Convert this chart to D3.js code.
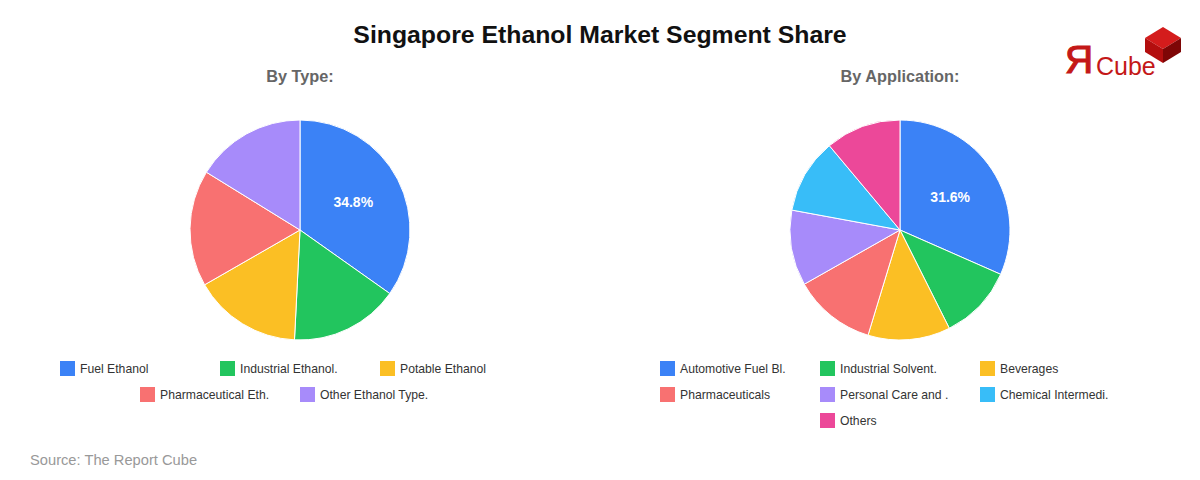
<!DOCTYPE html>
<html><head><meta charset="utf-8">
<script src="https://cdn.jsdelivr.net/npm/d3@7/dist/d3.min.js"></script>
<style>body{margin:0;background:#fff;font-family:Arial,"Liberation Sans",sans-serif}</style>
</head><body><svg id="c" width="1200" height="480"></svg>
<script>
const typeCategories = ["Fuel Ethanol","Industrial Ethanol.","Potable Ethanol","Pharmaceutical Eth.","Other Ethanol Type."];
const typeValues = [34.8, 16.0, 15.9, 17.1, 16.2];
const appCategories = ["Automotive Fuel Bl.","Industrial Solvent.","Beverages","Pharmaceuticals","Personal Care and .","Chemical Intermedi.","Others"];
const appValues = [31.6, 11.0, 12.1, 12.1, 11.1, 11.0, 11.1];
const palette = ["#3b82f6","#22c55e","#fbbf24","#f87171","#a78bfa","#38bdf8","#ec4899"];

const svg = d3.select("#c");
svg.append("rect").attr("width",1200).attr("height",480).attr("fill","#fff");
svg.append("text").attr("x",600).attr("y",43).attr("text-anchor","middle")
  .attr("font-size",24.8).attr("font-weight","bold").attr("fill","#111").text("Singapore Ethanol Market Segment Share");

function drawPie(cx, cy, r, title, cats, vals, legendCols, legendRows){
  svg.append("text").attr("x",cx).attr("y",82).attr("text-anchor","middle")
    .attr("font-size",16.3).attr("font-weight","bold").attr("fill","#666").text(title);
  const data = cats.map((c,i)=>({c, v: vals[i], i}));
  const pie = d3.pie().value(d=>d.v).sort(null);
  const arc = d3.arc().innerRadius(0).outerRadius(r);
  const g = svg.append("g").attr("transform",`translate(${cx},${cy})`);
  const arcs = pie(data);
  g.selectAll("path").data(arcs).join("path").attr("d",arc)
    .attr("fill",d=>palette[d.data.i]).attr("stroke","#fff").attr("stroke-width",1);
  const lab = d3.arc().innerRadius(r*0.545).outerRadius(r*0.545);
  const total = d3.sum(vals);
  g.selectAll("text").data(arcs.filter(d=>d.data.v/total>0.25)).join("text")
    .attr("transform",d=>`translate(${lab.centroid(d)})`).attr("text-anchor","middle").attr("dy","0.35em")
    .attr("font-size",14).attr("font-weight","bold").attr("fill","#fff")
    .text(d=>d.data.v.toFixed(1)+"%");
  const lg = svg.append("g");
  legendRows.forEach((row, ri)=>{
    row.forEach((idx, k)=>{
      const x = legendCols[ri][k], y = 369 + ri*26;
      lg.append("rect").attr("x",x).attr("y",y-8).attr("width",15).attr("height",15).attr("fill",palette[idx]);
      lg.append("text").attr("x",x+20).attr("y",y).attr("dy","0.35em").attr("font-size",12.2).attr("fill","#333").text(cats[idx]);
    });
  });
}
drawPie(300, 230, 110, "By Type:", typeCategories, typeValues,
  [[60,220,380],[140,300]], [[0,1,2],[3,4]]);
drawPie(900, 230, 110, "By Application:", appCategories, appValues,
  [[660,820,980],[660,820,980],[820]], [[0,1,2],[3,4,5],[6]]);

svg.append("text").attr("x",30).attr("y",465).attr("font-size",14.7).attr("fill","#999").text("Source: The Report Cube");

const logo = svg.append("g");
logo.append("text").attr("x",1065).attr("y",73).attr("font-size",39).attr("fill","#c41818")
  .attr("stroke","#c41818").attr("stroke-width",1.2)
  .attr("font-family","'Liberation Sans',Arial,sans-serif").text("Я");
logo.append("text").attr("x",1096).attr("y",75).attr("font-size",25).attr("fill","#c41818").text("Cube");
const cubeX=1163, cubeTop=27, cw=18, ch=11, cd=14;
logo.append("path").attr("d",`M${cubeX},${cubeTop} L${cubeX+cw},${cubeTop+ch} L${cubeX},${cubeTop+2*ch} L${cubeX-cw},${cubeTop+ch} Z`).attr("fill","#d41c1c");
logo.append("path").attr("d",`M${cubeX-cw},${cubeTop+ch} L${cubeX},${cubeTop+2*ch} L${cubeX},${cubeTop+2*ch+cd} L${cubeX-cw},${cubeTop+ch+cd} Z`).attr("fill","#b30e0e");
logo.append("path").attr("d",`M${cubeX+cw},${cubeTop+ch} L${cubeX},${cubeTop+2*ch} L${cubeX},${cubeTop+2*ch+cd} L${cubeX+cw},${cubeTop+ch+cd} Z`).attr("fill","#7e0606");
</script></body></html>
